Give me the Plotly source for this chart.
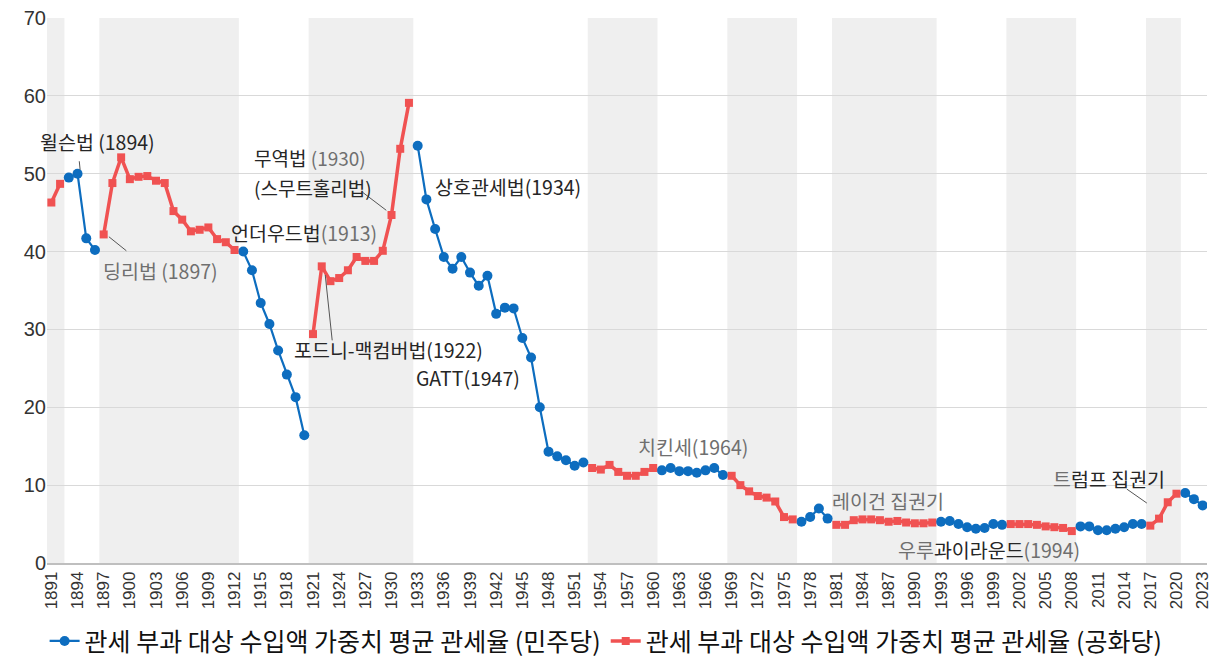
import plotly.graph_objects as go

# ---------------- data ----------------
years = list(range(1891, 2024))
tariff_rate = [
    # 1891-1900
    46.3, 48.7, 49.5, 50.0, 41.7, 40.2, 42.2, 48.8, 52.1, 49.3,
    # 1901-1910
    49.6, 49.7, 49.1, 48.8, 45.2, 44.1, 42.6, 42.8, 43.1, 41.6,
    # 1911-1920
    41.2, 40.2, 40.0, 37.6, 33.4, 30.7, 27.3, 24.2, 21.3, 16.4,
    # 1921-1930
    29.4, 38.1, 36.2, 36.6, 37.6, 39.3, 38.8, 38.8, 40.1, 44.7,
    # 1931-1940
    53.2, 59.1, 53.6, 46.7, 42.9, 39.3, 37.8, 39.3, 37.3, 35.6,
    # 1941-1950
    36.9, 32.0, 32.8, 32.7, 28.9, 26.4, 20.0, 14.3, 13.7, 13.2,
    # 1951-1960
    12.5, 12.9, 12.2, 12.0, 12.6, 11.7, 11.2, 11.2, 11.7, 12.2,
    # 1961-1970
    11.9, 12.2, 11.8, 11.8, 11.6, 11.9, 12.2, 11.3, 11.2, 10.0,
    # 1971-1980
    9.2, 8.6, 8.4, 7.9, 5.9, 5.6, 5.3, 5.9, 7.0, 5.7,
    # 1981-1990
    4.9, 4.9, 5.5, 5.6, 5.6, 5.5, 5.3, 5.4, 5.2, 5.1,
    # 1991-2000
    5.1, 5.2, 5.3, 5.4, 5.0, 4.6, 4.4, 4.5, 5.0, 4.9,
    # 2001-2010
    5.0, 5.0, 5.0, 4.9, 4.7, 4.6, 4.5, 4.1, 4.7, 4.7,
    # 2011-2020
    4.2, 4.2, 4.4, 4.6, 5.0, 5.0, 4.8, 5.7, 7.8, 8.9,
    # 2021-2023
    9.0, 8.2, 7.4,
]
assert len(tariff_rate) == len(years)

# Republican administrations (shaded)
rep_starts = [1891, 1897, 1921, 1953, 1969, 1981, 2001, 2017]
rep_ends = [1892, 1912, 1932, 1960, 1976, 1992, 2008, 2020]

tick_years = list(range(1891, 2024, 3))
y_ticks = [0, 10, 20, 30, 40, 50, 60, 70]

dem_name = "관세 부과 대상 수입액 가중치 평균 관세율 (민주당)"
rep_name = "관세 부과 대상 수입액 가중치 평균 관세율 (공화당)"

BLUE = "#0d6dbf"
RED = "#f05252"
GRAY_TXT = "#6f6f6f"
DARK_TXT = "#262626"


def is_rep(y):
    return any(s <= y <= e for s, e in zip(rep_starts, rep_ends))


dem_vals = [v if not is_rep(y) else None for y, v in zip(years, tariff_rate)]
rep_vals = [v if is_rep(y) else None for y, v in zip(years, tariff_rate)]

fig = go.Figure()

fig.add_trace(go.Scatter(
    x=years, y=dem_vals, name=dem_name, mode="lines+markers",
    line=dict(color=BLUE, width=2.2),
    marker=dict(symbol="circle", size=10, color=BLUE),
    connectgaps=False,
))
fig.add_trace(go.Scatter(
    x=years, y=rep_vals, name=rep_name, mode="lines+markers",
    line=dict(color=RED, width=3.5),
    marker=dict(symbol="square", size=8, color=RED),
    connectgaps=False,
))

shapes = []
for s, e in zip(rep_starts, rep_ends):
    shapes.append(dict(type="rect", xref="x", yref="paper",
                       x0=s - 0.5, x1=e + 0.5, y0=0, y1=1,
                       fillcolor="#efefef", line=dict(width=0), layer="below"))

# leader lines (from label to point)
leaders = [
    (1894.2, 51.6, 1894.3, 50.5),
    (1897.6, 41.9, 1899.6, 40.1),
    (1926.7, 47.6, 1929.4, 45.3),
    (1922.4, 37.0, 1923.2, 28.6),
    (2014.3, 9.5, 2016.6, 7.7),
]
for x0, y0, x1, y1 in leaders:
    shapes.append(dict(type="line", xref="x", yref="y", x0=x0, y0=y0, x1=x1, y1=y1,
                       line=dict(color="#555555", width=1), layer="above"))

ann_font = dict(family="Noto Sans CJK KR", size=19.5, color=DARK_TXT)
ann_font_small = dict(family="Noto Sans CJK KR", size=19, color=DARK_TXT)


def g(t):
    return f'<span style="color:{GRAY_TXT}">{t}</span>'


labels = [
    (1896.3, 54.1, "윌슨법 (1894)", "center", ann_font),
    (1903.5, 37.6, g("딩리법 (1897)"), "center", ann_font),
    (1914.0, 52.1, "무역법 " + g("(1930)"), "left", ann_font_small),
    (1914.0, 48.2, "(스무트홀리법)", "left", ann_font_small),
    (1920.0, 42.4, "언더우드법" + g("(1913)"), "center", ann_font),
    (1929.6, 27.4, "포드니-맥컴버법(1922)", "center", ann_font),
    (1938.8, 23.8, "GATT(1947)", "center", ann_font),
    (1943.4, 48.4, "상호관세법(1934)", "center", ann_font),
    (1964.6, 14.9, g("치킨세(1964)"), "center", ann_font),
    (1986.9, 8.0, g("레이건 집권기"), "center", ann_font),
    (1998.5, 1.7, g("우루") + "과이라운드" + g("(1994)"), "center", ann_font),
    (2012.3, 10.9, g("트") + "럼프 집권기", "center", ann_font),
]
annotations = [dict(x=x, y=y, xref="x", yref="y", text=t, showarrow=False,
                    xanchor=a, yanchor="middle", font=f)
               for x, y, t, a, f in labels]

fig.update_layout(
    width=1216, height=661,
    margin=dict(l=47, r=9, t=18, b=98),
    plot_bgcolor="white", paper_bgcolor="white",
    shapes=shapes, annotations=annotations,
    showlegend=True,
    legend=dict(orientation="h", x=0.482, xanchor="center",
                yref="container", y=0.03, yanchor="middle",
                font=dict(family="Noto Sans CJK KR", size=25, color="#111111"),
                itemwidth=30, tracegroupgap=0),
    xaxis=dict(range=[1890.5, 2023.5], tickmode="array", tickvals=tick_years,
               ticktext=[str(y) for y in tick_years], tickangle=-90,
               tickfont=dict(family="Liberation Sans", size=17, color="#333333"),
               showgrid=False, zeroline=False, showline=True, automargin=False,
               linecolor="#bfbfbf", linewidth=1.5, ticks=""),
    yaxis=dict(range=[0, 70], tickvals=y_ticks, automargin=False,
               tickfont=dict(family="Liberation Sans", size=20, color="#333333"),
               showgrid=True, gridcolor="#d9d9d9", gridwidth=1,
               zeroline=False, showline=False, ticks=""),
)

fig.write_html("out.html", config={"displayModeBar": False},
               post_script="document.body.style.margin='0';document.body.style.overflow='hidden';")
